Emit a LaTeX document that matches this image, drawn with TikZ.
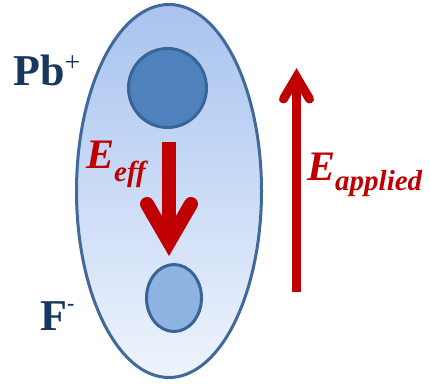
\documentclass[tikz,border=0pt]{standalone}
\usepackage{fontspec}
\setmainfont{Liberation Serif}
\usepackage{xcolor}
\usetikzlibrary{shapes.geometric,calc}
\definecolor{IonNavy}{HTML}{17375E}
\definecolor{FieldRed}{HTML}{C00000}
\definecolor{CellEdge}{HTML}{41699A}
\definecolor{CellTop}{HTML}{A8C3EF}
\definecolor{CellBottom}{HTML}{EEF4FD}
\definecolor{PbFill}{HTML}{4F81BD}
\definecolor{FFill}{HTML}{8DB3E2}
\definecolor{IonEdge}{HTML}{3A6496}

\tikzset{
  ionlabel/.style={IonNavy,anchor=base west,inner sep=0pt,font=\fontsize{44}{44}\selectfont\bfseries},
  fieldlabel/.style={FieldRed,anchor=base west,inner sep=0pt,font=\fontsize{42}{42}\selectfont\bfseries\itshape},
  ion/.style={ellipse,draw=IonEdge,line width=3pt,inner sep=0pt},
  fieldline/.style={FieldRed,line cap=butt},
  fieldhead/.style={FieldRed,line cap=round,line join=miter}
}

\begin{document}
\begin{tikzpicture}[x=1pt,y=-1pt]
  \useasboundingbox (0,0) rectangle (430,383);
  \node[ellipse,draw=CellEdge,line width=3pt,top color=CellTop,bottom color=CellBottom,
        minimum width=185pt,minimum height=373pt,inner sep=0pt] (cell) at (169,191) {};
  \node[ion,fill=PbFill,minimum width=78pt,minimum height=79pt] (pb) at (167.5,88) {};
  \node[ion,fill=FFill,minimum width=55pt,minimum height=67pt] (f) at (174,298) {};

  \node[ionlabel] (pblabel) at (13,85) {Pb\raisebox{14pt}{\fontsize{28}{28}\selectfont\mdseries +}};
  \node[ionlabel] (flabel) at (40,330) {F\raisebox{20pt}{\fontsize{22}{22}\selectfont -}};

  \coordinate (effTop) at (169,142);
  \coordinate (effTip) at (169,242);
  \draw[fieldline,line width=14pt] (effTop) -- (effTip);
  \draw[fieldhead,line width=14pt] ($(effTip)+(-22,-38)$) -- (effTip) -- ($(effTip)+(22,-38)$);
  \node[fieldlabel] (efflabel) at (86,168) {E\raisebox{-13pt}{\fontsize{29}{29}\selectfont eff}};

  \coordinate (appTip) at (296.5,77);
  \coordinate (appBottom) at (296.5,292);
  \draw[fieldline,line width=9pt] (appBottom) -- (appTip);
  \draw[fieldhead,line width=9pt] ($(appTip)+(-13,22)$) -- (appTip) -- ($(appTip)+(13,22)$);
  \node[fieldlabel] (applabel) at (307,180) {E\raisebox{-10pt}{\fontsize{29}{29}\selectfont applied}};
\end{tikzpicture}
\end{document}
